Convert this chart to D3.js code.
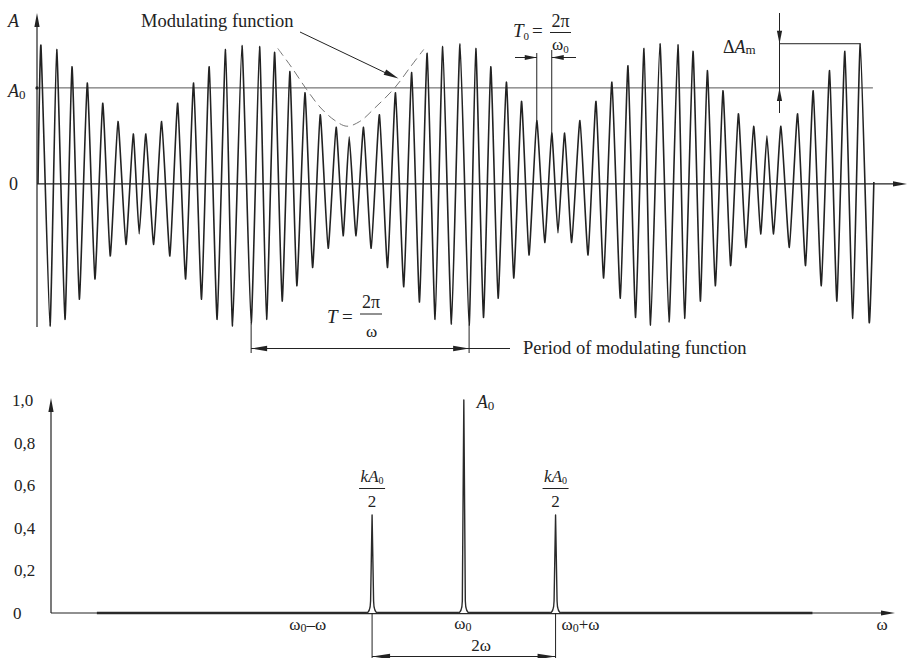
<!DOCTYPE html>
<html>
<head>
<meta charset="utf-8">
<script src="https://cdn.jsdelivr.net/npm/d3@7"></script>
<style>
  body { margin: 0; background: #fff; }
  svg text { font-family: "Liberation Serif", "Times New Roman", "DejaVu Serif", serif; fill: #222; }
</style>
</head>
<body>
<script>
// ---- top chart: AM signal, time in carrier periods, amplitude in units of A0
var peakT = [0.19, 1.20, 2.18, 3.16, 4.15, 5.13, 6.11, 6.92, 7.93, 8.96, 9.98, 10.98, 12.03, 13.08,
             14.21, 15.17, 16.15, 17.12, 18.10, 19.12, 19.96, 20.88, 21.90, 22.93, 23.97, 24.96, 25.96,
             27.07, 28.08, 29.04, 30.04, 31.01, 31.99, 32.95, 33.78, 34.76, 35.79, 36.81, 37.84, 38.87, 39.89,
             41.04, 42.01, 42.93, 43.93, 44.92, 45.90, 46.75, 47.65, 48.72, 49.72, 50.77, 51.75, 52.74];
var peakA = [1.44, 1.40, 1.22, 1.05, 0.84, 0.65, 0.52, 0.52, 0.65, 0.84, 1.05, 1.22, 1.40, 1.44,
             1.43, 1.37, 1.17, 0.95, 0.72, 0.59, 0.49, 0.59, 0.72, 0.95, 1.16, 1.36, 1.43,
             1.46, 1.41, 1.22, 1.06, 0.86, 0.66, 0.53, 0.53, 0.66, 0.86, 1.06, 1.23, 1.41, 1.46,
             1.45, 1.38, 1.18, 0.97, 0.73, 0.60, 0.50, 0.60, 0.73, 0.97, 1.18, 1.38, 1.46];
var troughT = [0.77, 1.73, 2.65, 3.65, 4.63, 5.64, 6.49, 7.42, 8.46, 9.47, 10.49, 11.49, 12.48,
               13.67, 14.66, 15.66, 16.60, 17.61, 18.61, 19.57, 20.40, 21.37, 22.42, 23.46, 24.47, 25.47, 26.52,
               27.65, 28.57, 29.51, 30.51, 31.49, 32.50, 33.35, 34.23, 35.28, 36.28, 37.35, 38.33, 39.29,
               40.47, 41.47, 42.48, 43.44, 44.42, 45.40, 46.35, 47.18, 48.19, 49.23, 50.24, 51.24, 52.26, 53.31];
var troughA = [-1.48, -1.41, -1.20, -0.99, -0.75, -0.63, -0.52, -0.63, -0.75, -0.99, -1.20, -1.41, -1.48,
               -1.46, -1.41, -1.22, -1.06, -0.87, -0.67, -0.54, -0.54, -0.67, -0.87, -1.07, -1.23, -1.41, -1.46,
               -1.47, -1.39, -1.19, -0.98, -0.74, -0.61, -0.51, -0.61, -0.74, -0.98, -1.19, -1.39, -1.47,
               -1.44, -1.40, -1.22, -1.06, -0.85, -0.66, -0.52, -0.52, -0.66, -0.85, -1.06, -1.22, -1.40, -1.44];
var waveStart = 0, waveEnd = 53.61;

// dashed modulating function (one dip)
var envT = [15.38, 16.28, 17.24, 18.14, 19.04, 19.81, 20.64, 21.60, 22.88, 23.85, 24.74];
var envA = [1.39, 1.19, 0.96, 0.77, 0.64, 0.58, 0.63, 0.77, 0.98, 1.19, 1.38];

// ---- bottom chart: spectrum
var specFreq = [-1, 0, 1];          // omega0 - omega, omega0, omega0 + omega
var specAmp = [0.46, 1.0, 0.46];
var specTicks = [0, 0.2, 0.4, 0.6, 0.8, 1.0];
var specFrom = -4, specTo = 3.8;

var W = 907, H = 658;
var ink = "#222";

var svg = d3.select("body").append("svg")
    .attr("width", W)
    .attr("height", H);

function arrowHead(x, y, ang, len, half) {
    len = len || 14; half = half || 2.6;
    var c = Math.cos(ang), s = Math.sin(ang);
    var bx = x - c * len, by = y - s * len;
    svg.append("path")
        .attr("d", "M" + x + "," + y +
            "L" + (bx - s * half) + "," + (by + c * half) +
            "L" + (bx + s * half) + "," + (by - c * half) + "Z")
        .attr("fill", ink);
}
function seg(x1, y1, x2, y2, w, col) {
    return svg.append("line")
        .attr("x1", x1).attr("y1", y1).attr("x2", x2).attr("y2", y2)
        .attr("stroke", col || ink).attr("stroke-width", w || 1);
}

// ================= top chart =================
var xT = d3.scaleLinear().domain([0, 55.8]).range([38, 908]);
var yT = d3.scaleLinear().domain([-1.49, 1.78]).range([327, 13]);

// axes
seg(xT(0) - 1, yT(-1.49), xT(0) - 1, yT(1.78) + 10, 1.2);
arrowHead(xT(0) - 1, yT(1.78), -Math.PI / 2);
seg(xT(0) - 1, yT(0), xT(55.8) - 8, yT(0), 1.2);
arrowHead(xT(55.8) - 1, yT(0), 0);
// A0 level
seg(xT(0) - 1, yT(1), xT(53.55), yT(1), 1, "#555");
svg.append("circle").attr("cx", xT(0) - 1).attr("cy", yT(1)).attr("r", 1.6).attr("fill", ink);

// carrier wave
var wave = [[waveStart, 0]];
for (var i = 0; i < peakT.length; i++) {
    wave.push([peakT[i], peakA[i]]);
    wave.push([troughT[i], troughA[i]]);
}
wave.push([waveEnd, 0.02]);

var waveLine = d3.line()
    .x(function(d) { return xT(d[0]); })
    .y(function(d) { return yT(d[1]); })
    .curve(d3.curveCardinal.tension(0.55));

svg.append("path")
    .datum(wave)
    .attr("d", waveLine)
    .attr("fill", "none")
    .attr("stroke", "#222")
    .attr("stroke-width", 1.6)
    .attr("stroke-linejoin", "round");

// modulating function
var env = envT.map(function(t, k) { return [t, envA[k]]; });
svg.append("path")
    .datum(env)
    .attr("d", d3.line()
        .x(function(d) { return xT(d[0]); })
        .y(function(d) { return yT(d[1]) - 2; })
        .curve(d3.curveCatmullRom))
    .attr("fill", "none")
    .attr("stroke", "#777")
    .attr("stroke-width", 1)
    .attr("stroke-dasharray", "9,5");

// labels of top chart
svg.append("text").attr("x", 8).attr("y", 27).attr("font-size", 18)
    .attr("font-style", "italic").text("A");
var a0 = svg.append("text").attr("x", 8).attr("y", yT(1) + 9).attr("font-size", 18);
a0.append("tspan").attr("font-style", "italic").text("A");
a0.append("tspan").attr("font-size", 13).attr("dy", 2).text("0");
svg.append("text").attr("x", 9).attr("y", yT(0) + 6).attr("font-size", 18).text("0");

svg.append("text").attr("x", 141).attr("y", 27).attr("font-size", 18.5).text("Modulating function");
seg(300, 32, 388, 74, 1);
arrowHead(398.5, 78.5, Math.atan2(78.5 - 32, 398.5 - 300), 15, 3);

// T0 = 2pi / omega0
var k0 = 33;   // carrier period marked between two neighbouring peaks
var xa = xT(peakT[k0 - 1]), xb = xT(peakT[k0]);
seg(xa, 53, xa, yT(peakA[k0 - 1]), 1);
seg(xb, 50, xb, yT(peakA[k0]), 1);
seg(515, 57.5, xa, 57.5, 1);
arrowHead(xa, 57.5, 0, 12, 2.4);
seg(xb, 57.5, 576, 57.5, 1);
arrowHead(xb, 57.5, Math.PI, 12, 2.4);
var t0 = svg.append("text").attr("x", 513).attr("y", 37).attr("font-size", 19);
t0.append("tspan").attr("font-style", "italic").text("T");
t0.append("tspan").attr("font-size", 11).attr("dy", 3).text("0");
svg.append("text").attr("x", 532).attr("y", 37).attr("font-size", 19).text("=");
svg.append("text").attr("x", 560.5).attr("y", 27).attr("font-size", 18)
    .attr("text-anchor", "middle").text("2\u03c0");
seg(550, 32.5, 571, 32.5, 1);
var w0 = svg.append("text").attr("x", 552).attr("y", 50).attr("font-size", 17);
w0.append("tspan").text("\u03c9");
w0.append("tspan").attr("font-size", 11).attr("dy", 3).text("0");

// delta Am
var kMax = peakT.length - 1;
var xd = 779.5;
seg(xd, 13, xd, 113, 1);
arrowHead(xd, yT(peakA[kMax]), Math.PI / 2, 13, 2.6);
arrowHead(xd, yT(1), -Math.PI / 2, 13, 2.6);
seg(xd, yT(peakA[kMax]), xT(peakT[kMax]), yT(peakA[kMax]), 1);
var dam = svg.append("text").attr("x", 723).attr("y", 53).attr("font-size", 18);
dam.append("tspan").text("\u0394");
dam.append("tspan").attr("font-style", "italic").text("A");
dam.append("tspan").attr("font-size", 13).attr("dy", 1).text("m");

// T = 2pi / omega : one modulation period between two troughs
var kt1 = 13, kt2 = 27;
var xp1 = xT(troughT[kt1]), xp2 = xT(troughT[kt2]);
seg(xp1, yT(troughA[kt1]), xp1, 353, 1);
seg(xp2, yT(troughA[kt2]), xp2, 353, 1);
seg(xp1, 348.5, 510, 348.5, 1);
arrowHead(xp1, 348.5, Math.PI, 16, 2.8);
arrowHead(xp2, 348.5, 0, 16, 2.8);
svg.append("text").attr("x", 327).attr("y", 323).attr("font-size", 19)
    .attr("font-style", "italic").text("T");
svg.append("text").attr("x", 342).attr("y", 323).attr("font-size", 19).text("=");
svg.append("text").attr("x", 371).attr("y", 308).attr("font-size", 18)
    .attr("text-anchor", "middle").text("2\u03c0");
seg(360, 314, 382, 314, 1);
svg.append("text").attr("x", 371.5).attr("y", 337).attr("font-size", 17)
    .attr("text-anchor", "middle").text("\u03c9");
svg.append("text").attr("x", 523).attr("y", 354).attr("font-size", 18.5)
    .text("Period of modulating function");

// ================= bottom chart =================
var xS = d3.scaleLinear().domain([-4.5, 4.7]).range([51, 895]);
var yS = d3.scaleLinear().domain([0, 1]).range([613, 400]);

seg(xS(-4.5), yS(0), xS(-4.5), yS(1) + 10, 1.2);
arrowHead(xS(-4.5), yS(1) - 2, -Math.PI / 2);
seg(xS(-4.5), yS(0), xS(4.7) - 8, yS(0), 1.2);
arrowHead(xS(4.7), yS(0), 0);

var yAx = svg.append("g")
    .attr("transform", "translate(" + xS(-4.5) + ",0)")
    .call(d3.axisLeft(yS).tickValues(specTicks).tickSize(0)
        .tickFormat(function(d) { return d === 0 ? "0" : d3.format(".1f")(d).replace(".", ","); }));
yAx.select(".domain").remove();
yAx.selectAll("text")
    .attr("x", function(d) { return d === 0 ? -38 : (d === 1 ? -39 : -37); })
    .attr("text-anchor", "start")
    .attr("font-size", 17)
    .attr("fill", ink);

// spectrum baseline
seg(xS(specFrom), yS(0), xS(specTo), yS(0), 2.6, "#2a2a2a");

// spectral lines
specFreq.forEach(function(f, k) {
    var x = xS(f), y0 = yS(0), yt = yS(specAmp[k]);
    var d = "M" + (x - 6) + "," + y0 +
        "Q" + (x - 1.8) + "," + y0 + " " + (x - 1.5) + "," + (y0 - 12) +
        "L" + x + "," + yt +
        "L" + (x + 1.5) + "," + (y0 - 12) +
        "Q" + (x + 1.8) + "," + y0 + " " + (x + 6) + "," + y0;
    svg.append("path").attr("d", d)
        .attr("fill", "#fff")
        .attr("stroke", "#2a2a2a")
        .attr("stroke-width", 1.4)
        .attr("stroke-linejoin", "round");
});

// frequency labels: [text, isSubscript]
function wLabel(x, y, anchor, parts) {
    var t = svg.append("text").attr("x", x).attr("y", y).attr("font-size", 17)
        .attr("text-anchor", anchor);
    var down = false;
    parts.forEach(function(p) {
        var s = t.append("tspan").text(p[0]);
        if (p[1]) { s.attr("font-size", 12).attr("dy", 2); down = true; }
        else if (down) { s.attr("dy", -2); down = false; }
    });
    return t;
}
wLabel(xS(-1) - 46, 630, "end", [["\u03c9"], ["0", true], ["\u2013\u03c9"]]);
wLabel(xS(0) - 1, 629, "middle", [["\u03c9"], ["0", true]]);
wLabel(xS(1) + 6, 630, "start", [["\u03c9"], ["0", true], ["+\u03c9"]]);
svg.append("text").attr("x", 882).attr("y", 630).attr("font-size", 17)
    .attr("text-anchor", "middle").text("\u03c9");

// 2 omega spacing
seg(xS(-1), yS(0), xS(-1), 660, 1);
seg(xS(1), yS(0), xS(1), 660, 1);
seg(xS(-1), 656.5, xS(1), 656.5, 1);
arrowHead(xS(-1), 656.5, Math.PI, 18, 2.8);
arrowHead(xS(1), 656.5, 0, 18, 2.8);
svg.append("text").attr("x", 481).attr("y", 651).attr("font-size", 17)
    .attr("text-anchor", "middle").text("2\u03c9");

// amplitude labels
var a0s = svg.append("text").attr("x", xS(0) + 13).attr("y", 408).attr("font-size", 18);
a0s.append("tspan").attr("font-style", "italic").text("A");
a0s.append("tspan").attr("font-size", 13).attr("dy", 2).text("0");

[-1, 1].forEach(function(f) {
    var x = xS(f);
    var t = svg.append("text").attr("x", x).attr("y", 482).attr("font-size", 17)
        .attr("text-anchor", "middle");
    t.append("tspan").attr("font-style", "italic").text("kA");
    t.append("tspan").attr("font-size", 10).attr("dy", 2).text("0");
    seg(x - 13, 488.5, x + 13, 488.5, 1);
    svg.append("text").attr("x", x).attr("y", 507).attr("font-size", 17)
        .attr("text-anchor", "middle").text("2");
});
</script>
</body>
</html>
